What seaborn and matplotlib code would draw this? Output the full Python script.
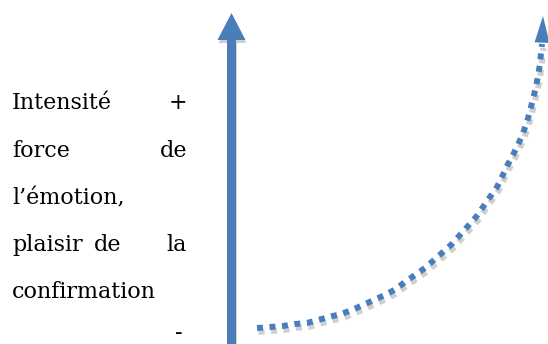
import matplotlib
matplotlib.use("Agg")
import matplotlib.pyplot as plt
import seaborn as sns
import pandas as pd

# ==========================
# DATA (pixel coordinates)
# ==========================

# vertical axis arrow: bottom -> tip
axis_x = [231.5, 231.5]
axis_y = [344, 13]

# dotted rising curve
curve_x = [257, 270, 283, 295, 307, 318, 329, 341, 352, 363, 374, 385, 396, 405,
           415, 425, 434, 443, 452, 460, 468, 476, 483, 490, 497, 502, 507, 513,
           518, 523, 527, 530, 533, 536, 538, 540, 541, 542]
curve_y = [328, 327, 326, 324, 323, 320, 317, 314, 310, 305, 300, 295, 289, 282,
           275, 268, 260, 252, 244, 235, 226, 217, 207, 197, 187, 177, 166, 155,
           145, 133, 122, 111, 99, 87, 76, 64, 53, 44]
curve_tip = (543, 16)

# justified text lines (words)
text_lines = [
    ["Intensité", "+"],
    ["force", "de"],
    ["l’émotion,"],
    ["plaisir", "de", "la"],
    ["confirmation"],
]
line_baselines = [109, 157, 204, 251, 298]
minus_label = "-"

BLUE = "#4a7ebb"
SHADOW = "#cfcfcf"
FS = 16

sns.set_theme(style="white")
plt.rcParams['font.family'] = ['DejaVu Serif']

fig = plt.figure(figsize=(5.48, 3.44), dpi=100)
ax = fig.add_axes([0, 0, 1, 1])

# ==========================
# VERTICAL ARROW
# ==========================

ax.arrow(axis_x[0] + 1, axis_y[0], 0, axis_y[1] - axis_y[0] + 3, width=9,
         head_width=28, head_length=27, length_includes_head=True,
         color=SHADOW, lw=0, zorder=1)
ax.arrow(axis_x[0], axis_y[0], 0, axis_y[1] - axis_y[0], width=9,
         head_width=28, head_length=27, length_includes_head=True,
         color=BLUE, lw=0, zorder=2)

# ==========================
# DOTTED CURVE
# ==========================

df = pd.DataFrame({"x": curve_x, "y": curve_y})
shadow = df.assign(x=df["x"] + 1.5, y=df["y"] + 4)

sns.lineplot(data=shadow, x="x", y="y", sort=False, ax=ax, color=SHADOW,
             lw=4.3, zorder=1)
sns.lineplot(data=df, x="x", y="y", sort=False, ax=ax, color=BLUE,
             lw=4.3, zorder=2)
for line in ax.lines:
    line.set_linestyle((0, (1, 1.1)))
    line.set_dash_capstyle("butt")

ax.annotate("", xy=curve_tip, xytext=(curve_x[-1], curve_y[-1]),
            arrowprops=dict(arrowstyle="-|>,head_length=1.6,head_width=0.45",
                            color=BLUE, lw=0, shrinkA=0, shrinkB=0),
            zorder=3)
ax.set_xlim(0, 548)
ax.set_ylim(344, 0)
ax.axis("off")

# ==========================
# LEFT TEXT (justified)
# ==========================

left, right = 12, 187
for words, base in zip(text_lines, line_baselines):
    n = len(words)
    for i, w in enumerate(words):
        if i == 0:
            ax.text(left, base, w, ha="left", va="baseline", fontsize=FS, color="black")
        elif i == n - 1:
            ax.text(right, base, w, ha="right", va="baseline", fontsize=FS, color="black")
        else:
            ax.text(108, base, w, ha="center", va="baseline", fontsize=FS, color="black")

ax.text(right - 4, 333, minus_label, ha="right", va="center", fontsize=FS, color="black")

fig.savefig("out.png", dpi=100)
